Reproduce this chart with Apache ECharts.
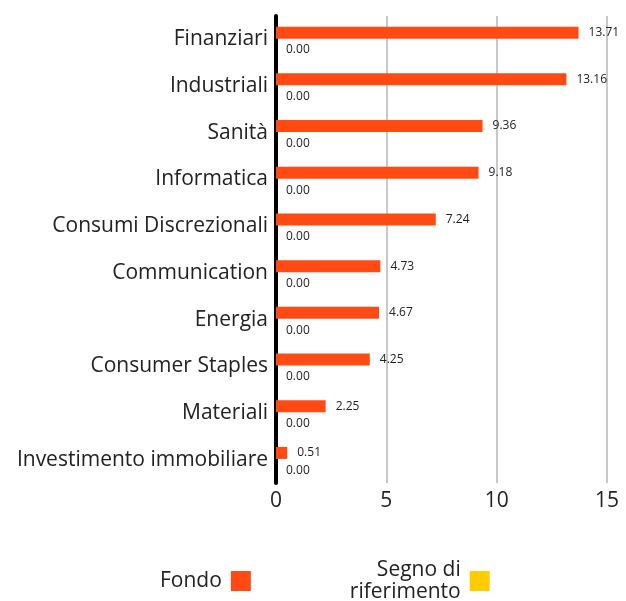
<!DOCTYPE html>
<html><head><meta charset="utf-8">
<script src="https://cdn.jsdelivr.net/npm/echarts@6/dist/echarts.min.js"></script>
<style>html,body{margin:0;padding:0;background:#fff}#c{width:626px;height:601px}</style>
</head><body><div id="c"></div>
<script>
const categories = ['Finanziari','Industriali','Sanità','Informatica','Consumi Discrezionali','Communication','Energia','Consumer Staples','Materiali','Investimento immobiliare'];
const fondo = [13.71,13.16,9.36,9.18,7.24,4.73,4.67,4.25,2.25,0.51];
const benchmark = [0,0,0,0,0,0,0,0,0,0];
const xTicks = [0,5,10,15];
const FONT = 'Open Sans';
const chart = echarts.init(document.getElementById('c'));
const lbl = {show:true, position:'right', distance:10, fontSize:12, color:'#222', fontFamily:FONT, formatter:p=>p.value.toFixed(2)};
chart.setOption({
  animation:false,
  textStyle:{fontFamily:FONT},
  grid:{left:276, right:19, top:16, bottom:118, containLabel:false},
  xAxis:{type:'value', min:0, max:15, interval:5,
    axisLine:{show:false}, axisTick:{show:false},
    splitLine:{show:true, lineStyle:{color:'#c8c8c8', width:2}},
    axisLabel:{fontSize:21, color:'#222', margin:8, fontFamily:FONT, formatter:v=>xTicks.includes(v)?String(v):''}},
  yAxis:{type:'category', data:categories, inverse:true,
    axisLine:{show:true, lineStyle:{color:'#000', width:4}},
    axisTick:{show:false},
    axisLabel:{fontSize:21, color:'#222', margin:8, fontFamily:FONT}},
  legend:{top:554, left:155, align:'right', itemWidth:20, itemHeight:20, itemGap:99,
    icon:'rect', textStyle:{fontSize:21, lineHeight:22, color:'#222', fontFamily:FONT, align:'right', padding:[0,4,0,0]},
    formatter:n=>n==='Segno di riferimento'?'Segno di\nriferimento':n,
    data:['Fondo','Segno di riferimento']},
  series:[
    {name:'Fondo', type:'bar', data:fondo, barWidth:12, barGap:'12%', itemStyle:{color:'#FF4A14'}, label:lbl},
    {name:'Segno di riferimento', type:'bar', data:benchmark, barWidth:12, itemStyle:{color:'#FFCC00'}, label:Object.assign({}, lbl, {offset:[0,4]})}
  ]
});
</script></body></html>
